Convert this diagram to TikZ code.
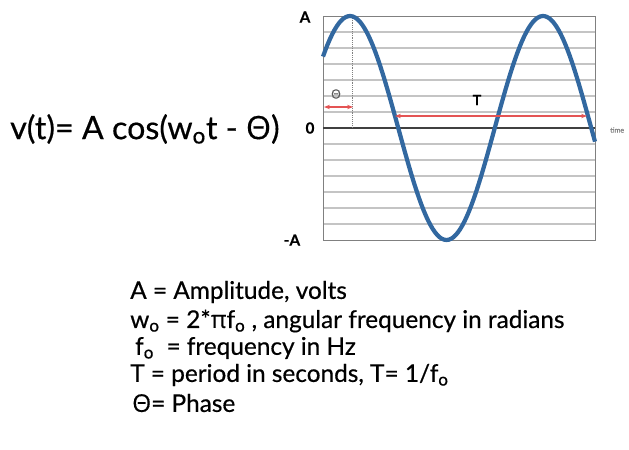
\documentclass[tikz,border=0pt]{standalone}
\usepackage{fontspec}
\setmainfont{Lato}[FakeBold=0.5]
\newfontfamily\greekfont{Open Sans}[FakeBold=0.3]
\usetikzlibrary{arrows.meta}
\definecolor{waveblue}{RGB}{50,104,160}
\definecolor{arrowred}{RGB}{228,84,84}
\definecolor{gridgray}{RGB}{196,196,196}
\newcommand{\lowo}{\textsubscript{o}}
\newcommand{\Th}{{\greekfont Θ}}
\tikzset{
  gridline/.style={gridgray, line width=0.9pt},
  wave/.style={waveblue, line width=3.6pt},
  redarrow/.style={arrowred, line width=2pt, {Stealth[length=5pt]}-{Stealth[length=5pt]}},
  axislabel/.style={font=\fontsize{13}{15}\selectfont\bfseries},
  legendline/.style={anchor=west, inner sep=0pt, font=\fontsize{20.8}{24}\selectfont}
}
\begin{document}
\begin{tikzpicture}[x=0.03cm, y=-0.03cm]
  \useasboundingbox (0,0) rectangle (629,449);

  % Grid lines of the plot
  \foreach \i in {1,...,13} {
    \draw[gridline] (323, 16+\i*16) -- (595, 16+\i*16);
  }
  \draw[gray, line width=0.8pt] (323,16) rectangle (595,240);
  \draw[black!75, line width=1pt] (323,128) -- (595,128);
  \draw[gray, densely dotted, line width=0.6pt] (352,16) -- (352,128);

  % The cosine wave
  \draw[wave] plot[domain=323:595, samples=120] (\x, {128-112*cos((\x-350)/193*360)});

  % Axis labels
  \node[axislabel] (lblA) at (305,17) {A};
  \node[axislabel] (lblzero) at (310,128) {0};
  \node[axislabel] (lblminusA) at (292,240) {-A};
  \node[anchor=west, inner sep=0pt, gray, font=\fontsize{6}{7}\selectfont] (lbltime) at (610,130) {time};

  % Phase and period arrows
  \coordinate (thetaL) at (324,107);
  \coordinate (thetaR) at (353,107);
  \draw[redarrow, line width=1.6pt] (thetaL) -- (thetaR);
  \node[font=\fontsize{11}{12}\selectfont, black!65] (thetalbl) at (336,94) {\Th};
  \coordinate (periodL) at (395,116);
  \coordinate (periodR) at (587,116);
  \draw[redarrow] (periodL) -- (periodR);
  \node[font=\fontsize{12}{14}\selectfont\bfseries] (periodlbl) at (477,100) {T};

  % Equation
  \node[anchor=west, inner sep=0pt, font=\fontsize{27.5}{31}\selectfont] (eqn) at (10,129)
    {v(t)= A cos(w\lowo t - \Th)};

  % Legend
  \node[legendline] (legA) at (130,292) {A = Amplitude, volts};
  \node[legendline] (legw) at (130,321) {w\lowo\ = 2*{\greekfont π}f\lowo\ , angular frequency in radians};
  \node[legendline] (legf) at (135,348) {f\lowo\ \ = frequency in Hz};
  \node[legendline] (legT) at (130,375) {T = period in seconds, T= 1/f\lowo};
  \node[legendline] (legth) at (132,403) {\Th= Phase};
\end{tikzpicture}
\end{document}
